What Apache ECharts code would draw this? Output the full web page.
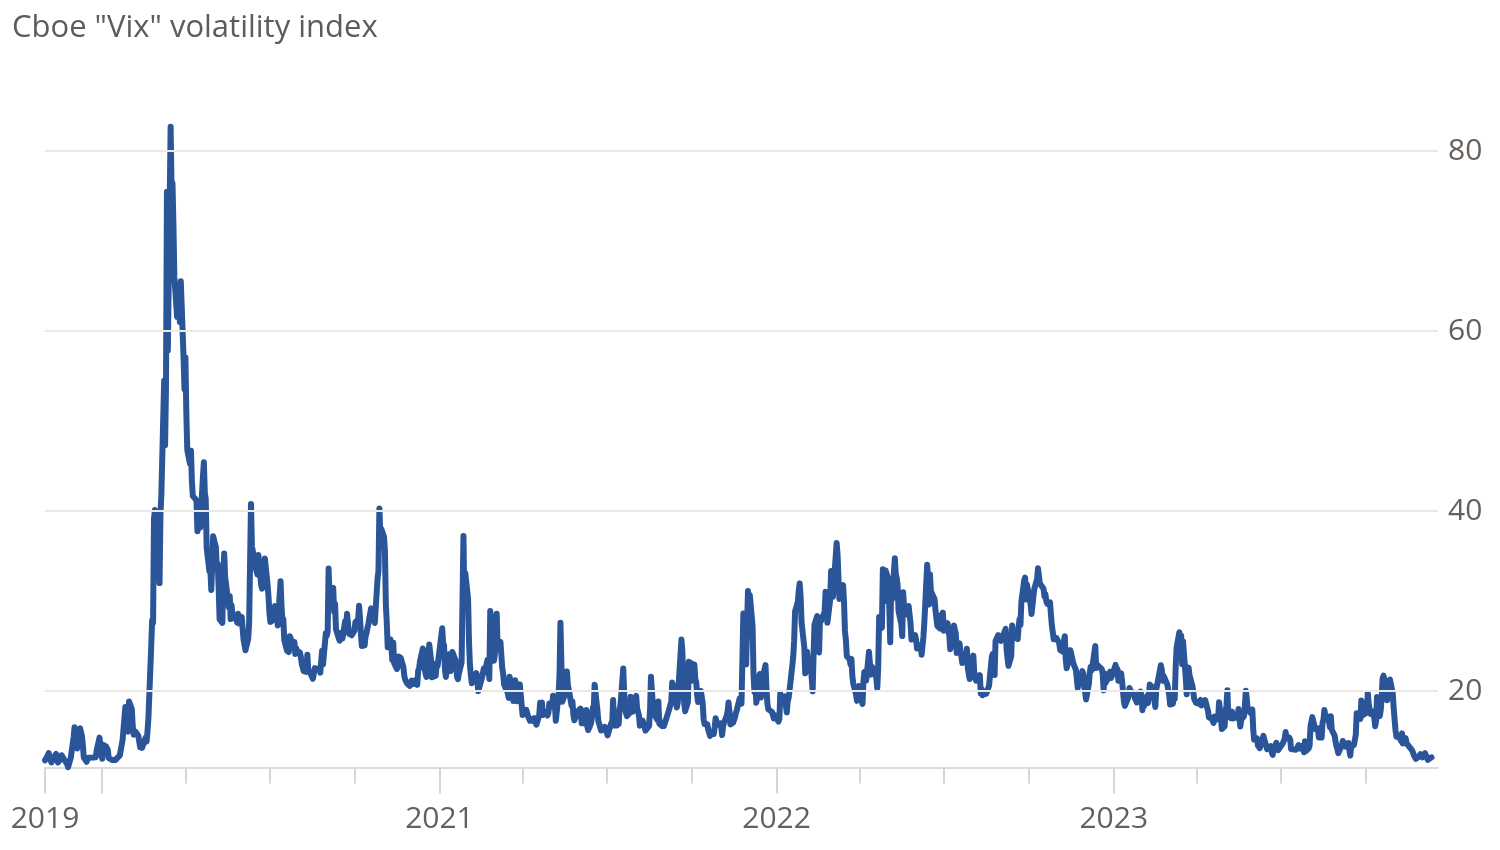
<!DOCTYPE html>
<html>
<head>
<meta charset="utf-8">
<script src="https://cdn.jsdelivr.net/npm/echarts@6/dist/echarts.min.js"></script>
<style>
html,body{margin:0;padding:0;background:#fff;}
#chart{width:1500px;height:850px;}
</style>
</head>
<body>
<div id="chart"></div>
<script>
const chartTitle = 'Cboe "Vix" volatility index';

const vix2019 = [['11-01',12.30],['11-04',12.83],['11-05',13.10],['11-06',12.62],['11-07',12.73],['11-08',12.07],['11-11',12.69],['11-12',12.68],['11-13',13.00],['11-14',13.05],['11-15',12.05],['11-18',12.46],['11-19',12.86],['11-20',12.78],['11-21',12.73],['11-22',12.34],['11-25',11.87],['11-26',11.54],['11-27',11.75],['11-29',12.62],
['12-02',14.91],['12-03',15.96],['12-04',14.80],['12-05',14.52],['12-06',13.62],['12-09',15.86],['12-10',15.68],['12-11',14.99],['12-12',13.94],['12-13',12.63],['12-16',12.14],['12-17',12.29],['12-18',12.58],['12-19',12.50],['12-20',12.51],['12-23',12.61],['12-24',12.67],['12-26',12.65],['12-27',13.43],['12-30',14.82],['12-31',13.78]];

const vix2020 = [['01-02',12.47],['01-03',14.02],['01-06',13.85],['01-07',13.79],['01-08',13.45],['01-09',12.54],['01-10',12.56],['01-13',12.32],['01-14',12.39],['01-15',12.42],['01-16',12.32],['01-17',12.10],['01-21',12.85],['01-22',12.91],['01-23',12.98],['01-24',14.56],['01-27',18.23],['01-28',16.28],['01-29',16.39],['01-30',15.49],['01-31',18.84],
['02-03',17.97],['02-04',16.05],['02-05',15.15],['02-06',14.96],['02-07',15.47],['02-10',15.04],['02-11',15.18],['02-12',13.74],['02-13',14.15],['02-14',13.68],['02-18',14.83],['02-19',14.38],['02-20',15.56],['02-21',17.08],['02-24',25.03],['02-25',27.85],['02-26',27.56],['02-27',39.16],['02-28',40.11],
['03-02',33.42],['03-03',36.82],['03-04',31.99],['03-05',39.62],['03-06',41.94],['03-09',54.46],['03-10',47.30],['03-11',53.90],['03-12',75.47],['03-13',57.83],['03-16',82.69],['03-17',75.91],['03-18',76.45],['03-19',72.00],['03-20',66.04],['03-23',61.59],['03-24',61.67],['03-25',63.95],['03-26',61.00],['03-27',65.54],['03-30',57.08],['03-31',53.54],
['04-01',57.06],['04-02',50.91],['04-03',46.80],['04-06',45.24],['04-07',46.70],['04-08',43.35],['04-09',41.67],['04-13',41.17],['04-14',37.76],['04-15',40.84],['04-16',40.11],['04-17',38.15],['04-20',43.83],['04-21',45.41],['04-22',41.98],['04-23',41.38],['04-24',35.93],['04-27',33.29],['04-28',33.57],['04-29',31.23],['04-30',34.15],
['05-01',37.19],['05-04',35.97],['05-05',33.61],['05-06',34.12],['05-07',31.44],['05-08',27.98],['05-11',27.57],['05-12',33.04],['05-13',35.28],['05-14',32.61],['05-15',31.89],['05-18',29.30],['05-19',30.53],['05-20',27.99],['05-21',29.53],['05-22',28.16],['05-26',28.01],['05-27',27.62],['05-28',28.59],['05-29',27.51],
['06-01',28.23],['06-02',26.84],['06-03',25.66],['06-04',25.81],['06-05',24.52],['06-08',25.81],['06-09',27.57],['06-10',27.57],['06-11',40.79],['06-12',36.09],['06-15',34.40],['06-16',33.67],['06-17',33.47],['06-18',32.94],['06-19',35.12],['06-22',31.77],['06-23',31.37],['06-24',33.84],['06-25',32.22],['06-26',34.73],['06-29',31.78],['06-30',30.43],
['07-01',28.62],['07-02',27.68],['07-06',27.94],['07-07',29.43],['07-08',28.08],['07-09',29.26],['07-10',27.29],['07-13',32.19],['07-14',29.52],['07-15',27.76],['07-16',28.00],['07-17',25.68],['07-20',24.46],['07-21',24.84],['07-22',24.32],['07-23',26.08],['07-24',25.84],['07-27',24.74],['07-28',25.44],['07-29',24.10],['07-30',24.76],['07-31',24.46],
['08-03',24.28],['08-04',23.76],['08-05',22.99],['08-06',22.65],['08-07',22.21],['08-10',22.13],['08-11',24.03],['08-12',22.28],['08-13',22.28],['08-14',22.05],['08-17',21.35],['08-18',21.51],['08-19',22.54],['08-20',22.72],['08-21',22.54],['08-24',22.37],['08-25',22.03],['08-26',23.27],['08-27',24.47],['08-28',22.96],['08-31',26.41],
['09-01',26.12],['09-02',26.57],['09-03',33.60],['09-04',30.75],['09-08',31.46],['09-09',28.81],['09-10',29.71],['09-11',26.87],['09-14',25.85],['09-15',25.59],['09-16',26.04],['09-17',26.46],['09-18',25.83],['09-21',27.78],['09-22',26.86],['09-23',28.58],['09-24',28.51],['09-25',26.38],['09-28',26.19],['09-29',26.27],['09-30',26.37],
['10-01',26.70],['10-02',27.63],['10-05',27.96],['10-06',29.48],['10-07',28.06],['10-08',26.36],['10-09',25.00],['10-12',25.07],['10-13',26.07],['10-14',26.40],['10-15',26.97],['10-16',27.41],['10-19',29.18],['10-20',29.35],['10-21',28.65],['10-22',28.11],['10-23',27.55],['10-26',32.46],['10-27',33.35],['10-28',40.28],['10-29',37.59],['10-30',38.02],
['11-02',37.13],['11-03',35.55],['11-04',29.57],['11-05',27.58],['11-06',24.86],['11-09',25.75],['11-10',24.80],['11-11',23.45],['11-12',25.35],['11-13',23.10],['11-16',22.45],['11-17',22.71],['11-18',23.84],['11-19',23.11],['11-20',23.70],['11-23',22.66],['11-24',21.64],['11-25',21.25],['11-27',20.84],['11-30',20.57],
['12-01',20.77],['12-02',21.17],['12-03',21.28],['12-04',20.79],['12-07',21.30],['12-08',20.68],['12-09',22.27],['12-10',22.52],['12-11',23.31],['12-14',24.72],['12-15',22.89],['12-16',22.50],['12-17',21.93],['12-18',21.57],['12-21',25.16],['12-22',24.23],['12-23',23.31],['12-24',21.53],['12-28',21.70],['12-29',23.08],['12-30',22.77],['12-31',22.75]];

const vix2021 = [['01-04',26.97],['01-05',25.34],['01-06',25.07],['01-07',22.37],['01-08',21.56],['01-11',24.08],['01-12',23.33],['01-13',22.21],['01-14',23.25],['01-15',24.34],['01-19',23.24],['01-20',21.58],['01-21',21.32],['01-22',21.91],['01-25',23.19],['01-26',23.02],['01-27',37.21],['01-28',30.21],['01-29',33.09],
['02-01',30.24],['02-02',25.56],['02-03',22.91],['02-04',21.77],['02-05',20.87],['02-08',21.24],['02-09',21.63],['02-10',21.99],['02-11',21.25],['02-12',19.97],['02-16',21.46],['02-17',21.50],['02-18',22.49],['02-19',22.05],['02-22',23.45],['02-23',23.11],['02-24',21.34],['02-25',28.89],['02-26',27.95],
['03-01',23.35],['03-02',24.10],['03-03',26.67],['03-04',28.57],['03-05',24.66],['03-08',25.47],['03-09',24.03],['03-10',22.56],['03-11',21.91],['03-12',20.69],['03-15',20.03],['03-16',19.79],['03-17',19.23],['03-18',21.58],['03-19',20.95],['03-22',18.88],['03-23',20.30],['03-24',21.20],['03-25',19.81],['03-26',18.86],['03-29',20.74],['03-30',19.61],['03-31',19.40],
['04-01',17.33],['04-05',17.91],['04-06',18.12],['04-07',17.16],['04-08',16.95],['04-09',16.69],['04-12',16.91],['04-13',16.65],['04-14',16.99],['04-15',16.57],['04-16',16.25],['04-19',17.29],['04-20',18.68],['04-21',17.50],['04-22',18.71],['04-23',17.33],['04-26',17.64],['04-27',17.56],['04-28',17.28],['04-29',17.61],['04-30',18.61],
['05-03',18.31],['05-04',19.48],['05-05',19.15],['05-06',18.39],['05-07',16.69],['05-10',19.66],['05-11',21.84],['05-12',27.59],['05-13',23.13],['05-14',18.81],['05-17',19.72],['05-18',21.34],['05-19',22.18],['05-20',20.67],['05-21',20.15],['05-24',18.40],['05-25',18.84],['05-26',17.36],['05-27',16.74],['05-28',16.76],
['06-01',17.90],['06-02',17.48],['06-03',18.04],['06-04',16.42],['06-07',16.42],['06-08',17.07],['06-09',17.89],['06-10',16.10],['06-11',15.65],['06-14',16.39],['06-15',17.02],['06-16',18.15],['06-17',17.75],['06-18',20.70],['06-21',17.89],['06-22',16.66],['06-23',16.32],['06-24',15.97],['06-25',15.62],['06-28',15.76],['06-29',16.02],['06-30',15.83],
['07-01',15.48],['07-02',15.07],['07-06',16.44],['07-07',16.20],['07-08',19.00],['07-09',16.18],['07-12',16.17],['07-13',17.12],['07-14',16.33],['07-15',17.99],['07-16',18.45],['07-19',22.50],['07-20',19.73],['07-21',17.91],['07-22',17.69],['07-23',17.20],['07-26',17.58],['07-27',19.36],['07-28',18.31],['07-29',17.70],['07-30',18.24],
['08-02',19.46],['08-03',18.04],['08-04',17.97],['08-05',17.28],['08-06',16.15],['08-09',16.72],['08-10',16.79],['08-11',16.06],['08-12',15.59],['08-13',15.45],['08-16',16.12],['08-17',17.91],['08-18',21.57],['08-19',21.67],['08-20',18.56],['08-23',17.15],['08-24',17.22],['08-25',16.79],['08-26',18.84],['08-27',16.39],['08-30',16.11],['08-31',16.48],
['09-01',16.11],['09-02',16.41],['09-03',16.41],['09-07',18.07],['09-08',18.49],['09-09',18.80],['09-10',20.95],['09-13',19.37],['09-14',19.46],['09-15',18.18],['09-16',18.69],['09-17',20.81],['09-20',25.71],['09-21',24.36],['09-22',20.87],['09-23',18.63],['09-24',17.75],['09-27',18.76],['09-28',23.25],['09-29',22.56],['09-30',23.14],
['10-01',21.15],['10-04',22.96],['10-05',21.30],['10-06',21.00],['10-07',19.54],['10-08',18.77],['10-11',20.00],['10-12',19.85],['10-13',18.64],['10-14',16.86],['10-15',16.30],['10-18',16.30],['10-19',15.70],['10-20',15.49],['10-21',15.01],['10-22',15.43],['10-25',15.24],['10-26',15.98],['10-27',16.98],['10-28',16.53],['10-29',16.26],
['11-01',16.41],['11-02',16.03],['11-03',15.10],['11-04',16.04],['11-05',16.48],['11-08',17.22],['11-09',17.78],['11-10',18.73],['11-11',17.66],['11-12',16.29],['11-15',16.49],['11-16',16.37],['11-17',17.11],['11-18',17.59],['11-19',17.91],['11-22',19.17],['11-23',19.38],['11-24',18.58],['11-26',28.62],['11-29',22.96],['11-30',27.19],
['12-01',31.12],['12-02',27.95],['12-03',30.67],['12-06',27.18],['12-07',21.89],['12-08',19.90],['12-09',21.58],['12-10',18.69],['12-13',20.31],['12-14',21.89],['12-15',19.29],['12-16',20.57],['12-17',21.57],['12-20',22.87],['12-21',20.31],['12-22',18.63],['12-23',17.96],['12-27',17.68],['12-28',17.54],['12-29',16.95],['12-30',17.33],['12-31',17.22]];

const vix2022 = [['01-03',16.60],['01-04',16.91],['01-05',19.73],['01-06',19.61],['01-07',18.76],['01-10',19.40],['01-11',18.41],['01-12',17.62],['01-13',18.83],['01-14',19.19],['01-18',22.79],['01-19',23.85],['01-20',25.59],['01-21',28.85],['01-24',29.90],['01-25',31.16],['01-26',31.96],['01-27',30.49],['01-28',27.66],['01-31',24.83],
['02-01',21.96],['02-02',22.09],['02-03',24.35],['02-04',23.22],['02-07',22.86],['02-08',21.44],['02-09',19.96],['02-10',23.91],['02-11',27.36],['02-14',28.33],['02-15',25.70],['02-16',24.29],['02-17',28.11],['02-18',27.75],['02-22',28.81],['02-23',31.02],['02-24',30.32],['02-25',27.59],['02-28',30.15],
['03-01',33.32],['03-02',31.27],['03-03',30.48],['03-04',31.98],['03-07',36.45],['03-08',35.13],['03-09',32.45],['03-10',30.23],['03-11',30.75],['03-14',31.77],['03-15',29.83],['03-16',26.67],['03-17',25.67],['03-18',23.87],['03-21',23.53],['03-22',22.94],['03-23',23.57],['03-24',21.67],['03-25',20.81],['03-28',19.63],['03-29',18.90],['03-30',19.33],['03-31',20.56],
['04-01',19.63],['04-04',18.57],['04-05',21.03],['04-06',22.10],['04-07',21.55],['04-08',21.16],['04-11',24.37],['04-12',24.26],['04-13',21.82],['04-14',22.70],['04-18',22.17],['04-19',21.37],['04-20',20.32],['04-21',22.68],['04-22',28.21],['04-25',27.02],['04-26',33.52],['04-27',31.60],['04-28',29.99],['04-29',33.40],
['05-02',32.34],['05-03',29.25],['05-04',25.42],['05-05',31.20],['05-06',30.19],['05-09',34.75],['05-10',32.99],['05-11',32.56],['05-12',31.77],['05-13',28.87],['05-16',27.47],['05-17',26.10],['05-18',30.96],['05-19',29.35],['05-20',29.43],['05-23',28.48],['05-24',29.45],['05-25',28.37],['05-26',27.50],['05-27',25.72],['05-31',26.19],
['06-01',25.69],['06-02',24.72],['06-03',25.07],['06-06',25.11],['06-07',24.02],['06-08',23.96],['06-09',26.09],['06-10',27.75],['06-13',34.02],['06-14',32.69],['06-15',29.62],['06-16',32.95],['06-17',31.13],['06-21',30.19],['06-22',28.95],['06-23',29.05],['06-24',27.23],['06-27',26.95],['06-28',28.36],['06-29',28.16],['06-30',28.71],
['07-01',26.70],['07-05',27.54],['07-06',26.73],['07-07',26.08],['07-08',24.64],['07-11',26.17],['07-12',27.29],['07-13',26.82],['07-14',26.40],['07-15',24.23],['07-18',25.30],['07-19',24.50],['07-20',23.88],['07-21',23.11],['07-22',23.03],['07-25',23.36],['07-26',24.69],['07-27',22.54],['07-28',22.33],['07-29',21.33],
['08-01',22.84],['08-02',23.93],['08-03',21.95],['08-04',21.44],['08-05',21.15],['08-08',21.29],['08-09',21.77],['08-10',19.74],['08-11',20.20],['08-12',19.53],['08-15',19.95],['08-16',19.69],['08-17',19.90],['08-18',19.56],['08-19',20.60],['08-22',23.80],['08-23',24.11],['08-24',22.82],['08-25',21.78],['08-26',25.56],['08-29',26.21],['08-30',26.21],['08-31',25.87],
['09-01',25.56],['09-02',25.47],['09-06',26.91],['09-07',24.64],['09-08',23.61],['09-09',22.79],['09-12',23.87],['09-13',27.27],['09-14',26.16],['09-15',26.27],['09-16',26.30],['09-19',25.76],['09-20',27.16],['09-21',27.99],['09-22',27.35],['09-23',29.92],['09-26',32.26],['09-27',32.60],['09-28',30.18],['09-29',31.84],['09-30',31.62],
['10-03',29.59],['10-04',28.55],['10-05',28.55],['10-06',30.52],['10-07',31.36],['10-10',32.45],['10-11',33.63],['10-12',33.57],['10-13',31.94],['10-14',32.02],['10-17',31.37],['10-18',30.50],['10-19',30.76],['10-20',29.98],['10-21',29.69],['10-24',29.85],['10-25',28.46],['10-26',27.28],['10-27',27.39],['10-28',25.75],['10-31',25.88],
['11-01',25.81],['11-02',25.86],['11-03',25.30],['11-04',24.55],['11-07',24.35],['11-08',25.54],['11-09',26.09],['11-10',23.53],['11-11',22.52],['11-14',23.73],['11-15',24.54],['11-16',24.11],['11-17',23.93],['11-18',23.12],['11-21',22.36],['11-22',22.36],['11-23',20.35],['11-25',20.50],['11-28',22.21],['11-29',21.89],['11-30',20.58],
['12-01',19.84],['12-02',19.06],['12-05',20.75],['12-06',22.01],['12-07',22.68],['12-08',22.29],['12-09',22.83],['12-12',25.00],['12-13',22.55],['12-14',22.37],['12-15',22.83],['12-16',22.62],['12-19',22.42],['12-20',21.97],['12-21',20.07],['12-22',21.97],['12-23',20.87],['12-27',21.65],['12-28',22.14],['12-29',21.44],['12-30',21.67]];

const vix2023 = [['01-03',22.90],['01-04',22.01],['01-05',22.46],['01-06',21.13],['01-09',21.97],['01-10',21.09],['01-11',21.09],['01-12',18.83],['01-13',18.35],['01-17',19.36],['01-18',20.34],['01-19',20.52],['01-20',19.85],['01-23',19.81],['01-24',19.20],['01-25',19.08],['01-26',18.73],['01-27',18.51],['01-30',19.94],['01-31',19.40],
['02-01',17.87],['02-02',18.73],['02-03',18.33],['02-06',19.43],['02-07',18.66],['02-08',19.63],['02-09',20.71],['02-10',20.53],['02-13',20.34],['02-14',18.91],['02-15',18.23],['02-16',20.17],['02-17',20.02],['02-21',22.87],['02-22',22.29],['02-23',21.14],['02-24',21.67],['02-27',20.95],['02-28',20.70],
['03-01',20.58],['03-02',19.59],['03-03',18.49],['03-06',18.60],['03-07',19.59],['03-08',19.11],['03-09',22.61],['03-10',24.80],['03-13',26.52],['03-14',23.73],['03-15',26.14],['03-16',22.99],['03-17',25.51],['03-20',21.38],['03-21',19.64],['03-22',22.26],['03-23',22.61],['03-24',21.74],['03-27',20.60],['03-28',19.97],['03-29',19.12],['03-30',19.02],['03-31',18.70],
['04-03',18.58],['04-04',18.76],['04-05',19.00],['04-06',18.40],['04-10',18.97],['04-11',18.97],['04-12',19.09],['04-13',17.80],['04-14',17.07],['04-17',16.95],['04-18',16.83],['04-19',16.46],['04-20',17.17],['04-21',16.77],['04-24',16.89],['04-25',18.76],['04-26',18.84],['04-27',17.03],['04-28',15.78],
['05-01',16.08],['05-02',17.78],['05-03',18.34],['05-04',20.09],['05-05',17.19],['05-08',16.98],['05-09',17.71],['05-10',16.94],['05-11',16.93],['05-12',17.03],['05-15',17.12],['05-16',17.99],['05-17',16.87],['05-18',16.05],['05-19',16.81],['05-22',17.21],['05-23',18.53],['05-24',20.03],['05-25',19.14],['05-26',17.95],['05-30',17.46],['05-31',17.94],
['06-01',15.65],['06-02',14.60],['06-05',14.73],['06-06',13.96],['06-07',13.94],['06-08',13.65],['06-09',13.83],['06-12',15.01],['06-13',14.61],['06-14',14.50],['06-15',14.50],['06-16',13.54],['06-20',13.88],['06-21',13.20],['06-22',12.91],['06-23',13.44],['06-26',14.25],['06-27',13.74],['06-28',13.43],['06-29',13.54],['06-30',13.59],
['07-03',14.18],['07-05',14.69],['07-06',15.44],['07-07',14.83],['07-10',14.84],['07-11',14.55],['07-12',13.54],['07-13',13.61],['07-14',13.34],['07-17',13.48],['07-18',13.30],['07-19',13.76],['07-20',13.99],['07-21',13.60],['07-24',13.91],['07-25',13.86],['07-26',13.19],['07-27',14.41],['07-28',13.33],['07-31',13.63],
['08-01',13.93],['08-02',16.09],['08-03',15.92],['08-04',17.10],['08-07',15.77],['08-08',15.99],['08-09',15.96],['08-10',15.85],['08-11',14.84],['08-14',14.82],['08-15',16.46],['08-16',16.78],['08-17',17.89],['08-18',17.30],['08-21',17.13],['08-22',16.97],['08-23',15.98],['08-24',17.20],['08-25',15.68],['08-28',15.08],['08-29',14.45],['08-30',13.88],['08-31',13.57],
['09-01',13.09],['09-05',14.02],['09-06',14.45],['09-07',14.40],['09-08',13.84],['09-11',13.80],['09-12',14.23],['09-13',13.48],['09-14',12.82],['09-15',13.79],['09-18',14.00],['09-19',14.11],['09-20',15.14],['09-21',17.54],['09-22',17.20],['09-25',16.90],['09-26',18.94],['09-27',18.22],['09-28',17.34],['09-29',17.52],
['10-02',17.61],['10-03',19.78],['10-04',18.58],['10-05',18.49],['10-06',17.45],['10-09',17.70],['10-10',17.03],['10-11',16.09],['10-12',16.69],['10-13',19.32],['10-16',17.21],['10-17',17.88],['10-18',19.22],['10-19',21.40],['10-20',21.71],['10-23',20.37],['10-24',18.97],['10-25',20.19],['10-26',20.68],['10-27',21.27],['10-30',19.75],['10-31',18.14],
['11-01',16.87],['11-02',15.66],['11-03',14.91],['11-06',14.89],['11-07',14.81],['11-08',14.45],['11-09',15.29],['11-10',14.17],['11-13',14.76],['11-14',14.16],['11-15',14.18],['11-16',14.32],['11-17',13.80],['11-20',13.41],['11-21',13.35],['11-22',12.85],['11-24',12.46],['11-27',12.69],['11-28',12.69],['11-29',12.98],['11-30',12.92],
['12-01',12.63],['12-04',13.08],['12-05',12.85],['12-06',12.97],['12-07',12.35],['12-08',12.35],['12-11',12.63]];

const yearsData = {2019: vix2019, 2020: vix2020, 2021: vix2021, 2022: vix2022, 2023: vix2023};

const xStart = '2019-11-01';
const xEnd = '2023-12-18';
const quarterTicks = ['2019-11-01','2020-01-01','2020-04-01','2020-07-01','2020-10-01','2021-01-01','2021-04-01','2021-07-01','2021-10-01','2022-01-01','2022-04-01','2022-07-01','2022-10-01','2023-01-01','2023-04-01','2023-07-01','2023-10-01'];
const yearTicks = ['2019-11-01','2020-01-01','2021-01-01','2022-01-01','2023-01-01'];
const xLabelDates = ['2019-11-01','2021-01-01','2022-01-01','2023-01-01'];
const xLabelTexts = ['2019','2021','2022','2023'];

const yMin = 11.5;
const yMax = 90;
const yGridValues = [20, 40, 60, 80];

function ts(s){ return Date.UTC(+s.slice(0,4), +s.slice(5,7) - 1, +s.slice(8,10)); }

const seriesData = [];
Object.keys(yearsData).forEach(function(y){
  yearsData[y].forEach(function(p){ seriesData.push([ts(y + '-' + p[0]), p[1]]); });
});

const labelMap = {};
xLabelDates.forEach(function(d, i){ labelMap[ts(d)] = xLabelTexts[i]; });

const textColor = '#66605c';
const chart = echarts.init(document.getElementById('chart'));
chart.setOption({
  backgroundColor: '#ffffff',
  animation: false,
  title: {
    text: chartTitle,
    left: 7, top: 8,
    textStyle: {color: '#5f5b58', fontSize: 31, fontWeight: 'normal', fontFamily: 'Open Sans'}
  },
  grid: {left: 45, right: 62, top: 61, bottom: 82.5, containLabel: false},
  xAxis: [{
    type: 'value', min: ts(xStart), max: ts(xEnd), position: 'bottom',
    axisLine: {show: true, lineStyle: {color: '#dcdcdc', width: 2}},
    axisTick: {show: true, length: 16, customValues: quarterTicks.map(ts), lineStyle: {color: '#d6d6d6', width: 2}},
    axisLabel: {show: false},
    splitLine: {show: false}
  }, {
    type: 'value', min: ts(xStart), max: ts(xEnd), position: 'bottom', offset: 0,
    axisLine: {show: false},
    axisTick: {show: true, length: 26, customValues: yearTicks.map(ts), lineStyle: {color: '#d6d6d6', width: 2}},
    axisLabel: {
      show: true, customValues: xLabelDates.map(ts), margin: 37,
      color: textColor, fontSize: 30, fontFamily: 'Open Sans',
      formatter: function(v){ return labelMap[v] || ''; }
    },
    splitLine: {show: false}
  }],
  yAxis: {
    type: 'value', min: yMin, max: yMax,
    axisLine: {show: false}, axisTick: {show: false}, axisLabel: {show: false}, splitLine: {show: false}
  },
  series: [{
    name: 'grid', type: 'line', data: [], xAxisIndex: 0, z: 1, silent: true,
    markLine: {
      silent: true, symbol: ['none','none'], animation: false,
      lineStyle: {color: '#ebe8e5', width: 2, type: 'solid'},
      label: {show: true, position: 'end', distance: 10, formatter: '{c}', color: textColor, fontSize: 30, fontFamily: 'Open Sans'},
      emphasis: {disabled: true},
      data: yGridValues.map(function(v){ return {yAxis: v}; })
    }
  }, {
    name: 'Vix', type: 'line', data: seriesData, xAxisIndex: 0, z: 3,
    showSymbol: false, clip: false,
    lineStyle: {color: '#2a5699', width: 6, join: 'round', cap: 'round'},
    emphasis: {disabled: true}
  }]
});
</script>
</body>
</html>
